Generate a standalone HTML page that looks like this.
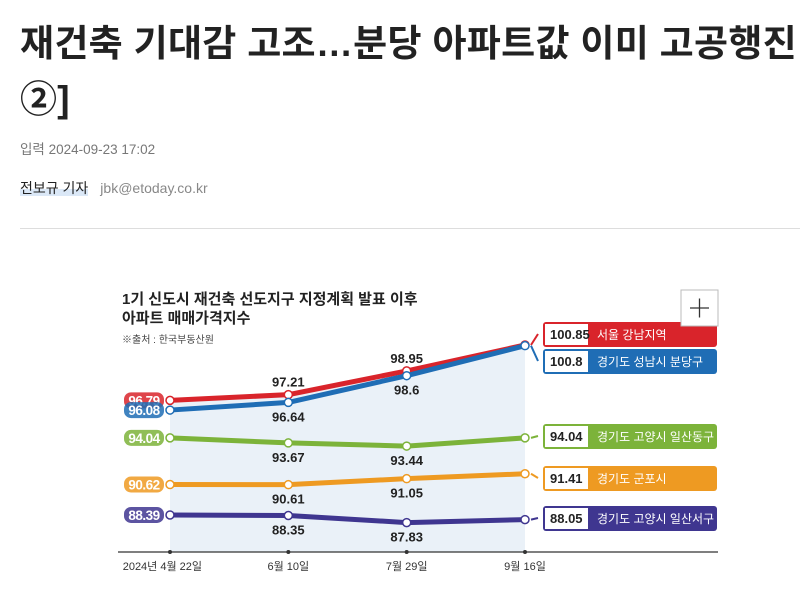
<!DOCTYPE html>
<html><head><meta charset="utf-8">
<style>
body{margin:0;width:800px;height:594px;overflow:hidden;background:#fff;font-family:"Liberation Sans","Noto Sans CJK KR",sans-serif;position:relative}
.title{position:absolute;left:20px;top:16px;width:900px;font-size:37px;font-weight:bold;color:#222;line-height:56px;letter-spacing:0.3px;white-space:nowrap}
.date{position:absolute;left:20px;top:138px;font-size:13.5px;color:#777}
.author{position:absolute;left:20px;top:178px;font-size:14px;color:#222}
.author span.n{background:linear-gradient(transparent 55%,#dbe8f7 55%)}
.author span.e{color:#888;margin-left:12px}
.rule{position:absolute;left:20px;right:0;top:228px;border-top:1px solid #ddd}
svg{position:absolute;left:0;top:0}
</style></head><body>
<div class="title">재건축 기대감 고조…분당 아파트값 이미 고공행진<br>②]</div>
<div class="date">입력 2024-09-23 17:02</div>
<div class="author"><span class="n">전보규 기자</span><span class="e">jbk@etoday.co.kr</span></div>
<div class="rule"></div>
<svg id="chart" width="800" height="594"></svg>
<script>
const categories=["2024년 4월 22일","6월 10일","7월 29일","9월 16일"];
const seoulGangnam=[96.79,97.21,98.95,100.85];
const bundang=[96.08,96.64,98.6,100.8];
const ilsanDong=[94.04,93.67,93.44,94.04];
const gunpo=[90.62,90.61,91.05,91.41];
const ilsanSeo=[88.39,88.35,87.83,88.05];
const seriesNames=["서울 강남지역","경기도 성남시 분당구","경기도 고양시 일산동구","경기도 군포시","경기도 고양시 일산서구"];
const S=[seoulGangnam,bundang,ilsanDong,gunpo,ilsanSeo];
const colors=["#d9242b","#1f6db5","#7cb33a","#ee9a22","#3f3690"];
const legendY=[334,361,436,478,518];
const NS="http://www.w3.org/2000/svg";
const svg=document.getElementById('chart');
const xs=[170,289,406,525];
const x=i=>xs[0]+(xs[3]-xs[0])*i/(categories.length-1);
const y=v=>345+(100.85-v)*13.64;
function el(t,a,p){const e=document.createElementNS(NS,t);for(const k in a)e.setAttribute(k,a[k]);(p||svg).appendChild(e);return e;}
const bg=el('rect',{x:118,y:283,width:600,height:295,fill:'#fff'});


const t1=el('text',{x:122,y:304,'font-size':15,'font-weight':'bold',fill:'#222'});t1.textContent="1기 신도시 재건축 선도지구 지정계획 발표 이후";


const t2=el('text',{x:122,y:323,'font-size':15,'font-weight':'bold',fill:'#222'});t2.textContent="아파트 매매가격지수";


const src=el('text',{x:122,y:343,'font-size':10,fill:'#444'});src.textContent="※출처 : 한국부동산원";


let d=`M${x(0)},${y(seoulGangnam[0])}`;seoulGangnam.forEach((v,i)=>d+=` L${x(i)},${y(v)}`);d+=` L${x(3)},552 L${x(0)},552 Z`;
const area=el('path',{d:d,fill:'#eaf1f8'});


const ax=el('line',{x1:118,x2:718,y1:552,y2:552,stroke:'#333','stroke-width':1.2});


categories.forEach((c,i)=>{
 const tk=el('circle',{cx:x(i),cy:552,r:2,fill:'#333'});
 
 
 const tl=el('text',{x:x(i),y:570,'font-size':11,fill:'#333','text-anchor':i==0?'end':'middle',dx:i==0?32:0});tl.textContent=c;
 
 
});
const pos=[[0,-1,-1,0],[0,1,1,0],[0,1,1,0],[0,1,1,0],[0,1,1,0]];
S.forEach((s,k)=>{
 const pts=s.map((v,i)=>x(i)+','+y(v)).join(' ');
 const ln=el('polyline',{points:pts,fill:'none',stroke:colors[k],'stroke-width':5,'stroke-linejoin':'round'});
 
 
 s.forEach((v,i)=>{
  const p=el('circle',{cx:x(i),cy:y(v),r:4,fill:'#fff',stroke:colors[k],'stroke-width':1.5});
  
  
  if(i==0){
   const pill=el('rect',{x:x(0)-46,y:y(v)-8,width:40,height:16,rx:7,fill:colors[k],opacity:0.85});
   
   
   const lb=el('text',{x:x(0)-26,y:y(v)+5,'font-size':13.5,'font-weight':'bold',fill:'#fff','text-anchor':'middle','letter-spacing':-0.5});lb.textContent=v;
   
   
  } else if(i<3){
   const lb=el('text',{x:x(i),y:y(v)+(pos[k][i]<0?-8:19),'font-size':13,'font-weight':'bold',fill:'#222','text-anchor':'middle'});lb.textContent=v;
   
   
  }
 });
 const ly=legendY[k];
 const con=el('path',{d:`M${x(3)+6},${y(s[3])} L538,${ly}`,stroke:colors[k],'stroke-width':2,fill:'none'});
 
 
 const box=el('rect',{x:543,y:ly-12,width:174,height:25,rx:3,fill:colors[k]});
 
 
 const vb=el('rect',{x:545,y:ly-10,width:43,height:21,fill:'#fff'});
 
 
 const vt=el('text',{x:550,y:ly+5,'font-size':13,'font-weight':'bold',fill:'#222'});vt.textContent=s[3];
 
 
 const nt=el('text',{x:597,y:ly+5,'font-size':12,fill:'#fff'});nt.textContent=seriesNames[k];
 
 
});
const zb=el('rect',{x:681,y:290,width:37,height:36,fill:'#fff',stroke:'#bbb'});


const zp=el('path',{d:'M690,308 H709 M699.5,298.5 V317.5',stroke:'#333','stroke-width':1.3});


</script>
</body></html>
